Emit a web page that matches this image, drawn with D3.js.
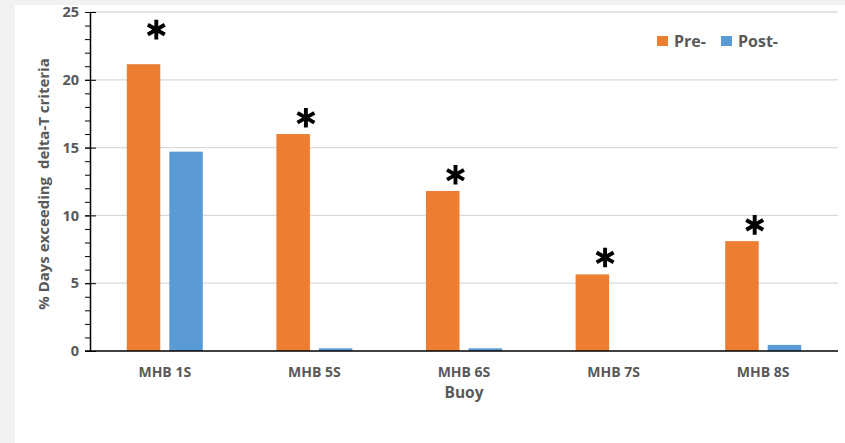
<!DOCTYPE html>
<html>
<head>
<meta charset="utf-8">
<script src="https://cdn.jsdelivr.net/npm/d3@7"></script>
<style>
  body { margin: 0; background: #f2f2f2; }
  text { font-family: "Open Sans", Calibri, sans-serif; font-weight: bold; fill: #595959; }
</style>
</head>
<body>
<div id="chart"></div>
<script>
var buoys = ["MHB 1S", "MHB 5S", "MHB 6S", "MHB 7S", "MHB 8S"];
var seriesNames = ["Pre-", "Post-"];
var preValues = [21.15, 16.0, 11.8, 5.65, 8.1];
var postValues = [14.7, 0.2, 0.2, 0, 0.45];
// height (in % units) where each significance star sits
var starLevels = [23.7, 17.2, 13.0, 6.9, 9.3];
var yMajor = [0, 5, 10, 15, 20, 25];
var colors = {"Pre-": "#ED7D31", "Post-": "#5B9BD5"};

var w = 845, h = 443;
var svg = d3.select("#chart").append("svg").attr("width", w).attr("height", h);

// white plot card
svg.append("rect").attr("x", 15).attr("y", 5).attr("width", w - 15).attr("height", h - 5).attr("fill", "#fff");

var plotLeft = 90, plotRight = 838, plotTop = 12, plotBottom = 351;

var y = d3.scaleLinear().domain([0, 25]).range([plotBottom, plotTop]);
var x = d3.scaleBand().domain(buoys).range([plotLeft, plotRight]).padding(0);
var xs = d3.scaleBand().domain(seriesNames).range([0, x.bandwidth()])
    .paddingInner(0.212).paddingOuter(0.866);

// gridlines
svg.append("g").selectAll("line").data(yMajor.slice(1)).join("line")
    .attr("x1", plotLeft).attr("x2", plotRight)
    .attr("y1", function(d) { return y(d); }).attr("y2", function(d) { return y(d); })
    .attr("stroke", "#d9d9d9").attr("stroke-width", 1.3);

// minor ticks
svg.append("g").attr("transform", "translate(" + plotLeft + ",0)")
    .call(d3.axisLeft(y).tickValues(d3.range(0, 26)).tickSize(5).tickSizeOuter(0).tickFormat(""))
    .call(function(g) { g.selectAll("path,line").attr("stroke", "#000"); g.select(".domain").attr("stroke-width", 1.5); });

// major ticks + labels
var yAxis = svg.append("g").attr("transform", "translate(" + plotLeft + ",0)")
    .call(d3.axisLeft(y).tickValues(yMajor).tickSize(5).tickPadding(6));
yAxis.select(".domain").remove();
yAxis.selectAll("line").attr("x1", 6).attr("stroke", "#000");
yAxis.selectAll("text").style("font-size", "14.5px").style("font-family", null).attr("fill", null);

// bars
var groups = svg.append("g").selectAll("g").data(buoys).join("g")
    .attr("transform", function(d) { return "translate(" + x(d) + ",0)"; });

groups.selectAll("rect")
    .data(function(d, i) { return [{s: "Pre-", v: preValues[i]}, {s: "Post-", v: postValues[i]}]; })
    .join("rect")
    .attr("x", function(d) { return xs(d.s); })
    .attr("width", xs.bandwidth())
    .attr("y", function(d) { return y(d.v); })
    .attr("height", function(d) { return plotBottom - y(d.v); })
    .attr("fill", function(d) { return colors[d.s]; });

// significance stars
svg.append("g").selectAll("path").data(buoys).join("path")
    .attr("transform", function(d, i) {
      return "translate(" + (x(d) + xs("Pre-") + xs.bandwidth() - 4) + "," + y(starLevels[i]) + ")";
    })
    .attr("d", d3.symbol().type(d3.symbolAsterisk).size(270))
    .attr("stroke", "#000").attr("stroke-width", 3.9).attr("fill", "none");

// x baseline
svg.append("line").attr("x1", plotLeft - 5).attr("x2", plotRight)
    .attr("y1", plotBottom).attr("y2", plotBottom).attr("stroke", "#000").attr("stroke-width", 1.5);

// x labels
svg.append("g").selectAll("text").data(buoys).join("text")
    .attr("x", function(d) { return x(d) + x.bandwidth() / 2; })
    .attr("y", 377)
    .attr("text-anchor", "middle")
    .style("font-size", "14px")
    .text(function(d) { return d; });

svg.append("text").attr("x", 464).attr("y", 398).attr("text-anchor", "middle")
    .style("font-size", "15.5px").text("Buoy");

svg.append("text")
    .attr("transform", "translate(49,184) rotate(-90)")
    .attr("text-anchor", "middle")
    .style("font-size", "15px")
    .style("white-space", "pre")
    .text("% Days exceeding  delta-T criteria");

// legend
var legendX = [657, 721];
var legend = svg.append("g").selectAll("g").data(seriesNames).join("g")
    .attr("transform", function(d, i) { return "translate(" + legendX[i] + ",36)"; });
legend.append("rect").attr("width", 11).attr("height", 10)
    .attr("fill", function(d) { return colors[d]; });
legend.append("text").attr("x", 17).attr("y", 11)
    .style("font-size", "16px").text(function(d) { return d; });
</script>
</body>
</html>
